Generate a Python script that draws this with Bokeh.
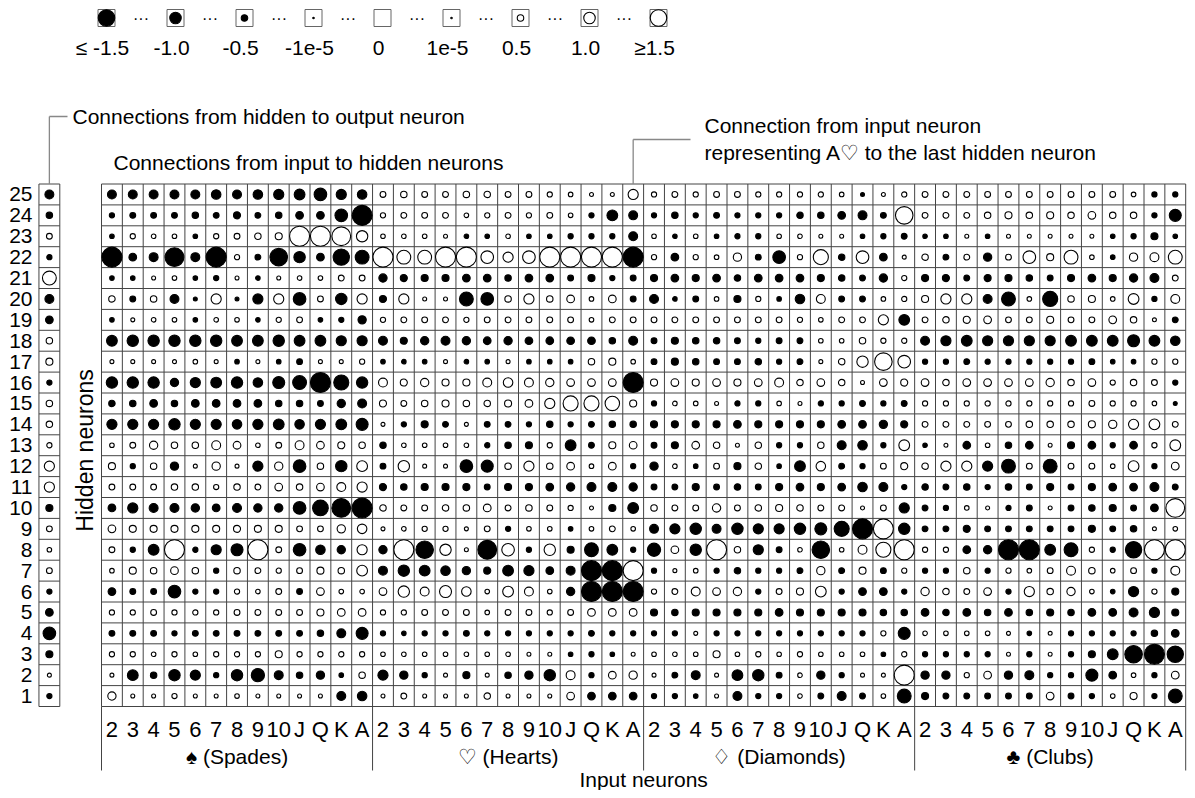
import math
from bokeh.plotting import figure
from bokeh.models import Range1d
from bokeh.core.properties import value
from bokeh.embed import file_html
from bokeh.resources import INLINE

# ---------------- data ----------------
cards = ["2", "3", "4", "5", "6", "7", "8", "9", "10", "J", "Q", "K", "A"]
suits = ["\u2660 (Spades)", "\u2661 (Hearts)", "\u2662 (Diamonds)", "\u2663 (Clubs)"]
hidden_rows = list(range(25, 0, -1))  # rows listed top to bottom

# weights input -> hidden, one list per hidden neuron (25 .. 1), 13 cards each
spades = [
    [-0.6, -0.6, -0.6, -0.6, -0.6, -0.65, -0.6, -0.65, -0.7, -0.75, -0.9, -0.7, -0.65],
    [-0.3, -0.35, -0.35, -0.35, -0.4, -0.35, -0.45, -0.35, -0.4, -0.5, -0.5, -0.9, -1.5],
    [-0.25, 0.3, 0.25, 0.25, -0.25, 0.3, 0.35, 0.4, 0.45, 1.5, 1.5, 1.4, 0.8],
    [-1.5, -0.5, -0.6, -1.4, -0.6, -1.5, 0.3, -0.35, -1.3, -0.8, -0.5, -1.2, -1.0],
    [-0.25, -0.25, 0.2, 0.25, -0.25, -0.3, 0.2, -0.25, 0.2, 0.25, 0.25, 0.35, 0.35],
    [0.4, -0.35, 0.4, -0.6, -0.2, 0.7, -0.2, -0.7, 0.7, -0.9, 0.35, -0.8, 0.7],
    [-0.25, 0.2, 0.25, 0.25, -0.25, 0.25, 0.25, -0.25, 0.3, 0.35, -0.25, -0.3, -0.55],
    [-0.75, -0.8, -0.8, -0.8, -0.8, -0.8, -0.75, -0.75, -0.8, -0.75, -0.75, -0.7, -0.7],
    [0.2, 0.2, 0.2, 0.2, 0.25, 0.2, -0.25, 0.2, -0.25, -0.35, 0.2, 0.2, 0.3],
    [-0.8, -0.8, -0.8, -0.55, -0.7, -0.75, -0.8, -0.65, -0.85, -1.0, -1.6, -1.1, -0.8],
    [-0.4, -0.4, -0.5, -0.4, -0.5, -0.5, -0.5, -0.5, -0.4, -0.4, -0.35, -0.55, -0.6],
    [-0.7, -0.7, -0.7, -0.8, -0.7, -0.7, -0.65, -0.7, -0.75, -0.65, -0.7, -0.75, -0.85],
    [0.25, 0.35, 0.55, 0.4, 0.4, 0.6, 0.5, 0.25, 0.35, 0.6, 0.5, 0.45, 0.4],
    [0.45, -0.3, 0.4, -0.55, 0.2, 0.55, 0.2, -0.7, 0.55, -0.9, 0.4, -0.8, 0.75],
    [0.35, 0.35, 0.35, 0.4, 0.4, 0.3, 0.4, 0.35, 0.5, 0.4, 0.5, 0.6, 0.7],
    [-0.5, -0.7, -0.6, -0.6, -0.55, -0.5, -0.6, -0.55, -0.55, -0.9, -1.15, -1.4, -1.6],
    [0.5, 0.45, 0.45, 0.45, 0.45, 0.45, 0.45, 0.45, 0.45, 0.35, 0.35, 0.55, 0.65],
    [0.35, -0.3, -0.75, 1.6, -0.3, -0.7, -0.85, 1.6, 0.35, -0.9, -0.65, -0.55, 0.7],
    [0.25, 0.45, 0.4, 0.5, 0.4, -0.3, 0.4, 0.35, 0.3, 0.35, 0.45, 0.4, 0.75],
    [-0.5, -0.35, -0.35, -0.9, -0.3, -0.3, 0.3, 0.25, 0.35, -0.35, 0.5, 0.25, 0.25],
    [0.3, 0.3, 0.35, 0.3, 0.3, 0.3, 0.35, 0.35, 0.35, 0.35, 0.45, 0.5, 0.5],
    [-0.35, -0.35, -0.35, -0.3, -0.35, -0.35, -0.35, -0.35, -0.35, -0.35, -0.4, -0.6, -0.85],
    [0.3, 0.3, 0.25, 0.3, 0.25, 0.3, 0.3, 0.3, 0.45, 0.3, 0.3, 0.3, 0.3],
    [0.2, -0.75, -0.4, -0.8, -0.7, -0.3, -0.8, -0.95, -0.6, -0.4, -0.55, -0.25, 0.4],
    [0.55, 0.2, 0.2, 0.3, 0.2, 0.2, 0.25, 0.2, 0.2, 0.2, 0.2, -0.6, -0.65],
]
hearts = [
    [0.35, 0.4, 0.35, 0.35, 0.4, 0.4, 0.35, 0.35, 0.3, 0.25, 0.2, 0.2, 0.7],
    [0.3, 0.35, 0.35, 0.35, 0.25, 0.3, 0.35, 0.3, 0.35, 0.25, -0.3, -0.75, -0.6],
    [0.25, 0.25, 0.25, 0.2, -0.25, -0.25, 0.25, -0.25, -0.25, -0.3, -0.3, -0.3, -0.6],
    [1.5, 1.0, 1.0, 1.5, 1.5, 0.9, 0.7, 0.9, 1.5, 1.5, 1.5, 1.5, -1.6],
    [-0.55, -0.45, -0.45, -0.45, -0.5, -0.5, -0.4, -0.5, -0.5, -0.35, -0.45, -0.3, -0.35],
    [-0.45, 0.7, 0.2, 0.2, -1.0, -0.9, 0.4, 0.7, 0.4, 0.5, 0.25, 0.5, -0.35],
    [0.3, 0.35, 0.35, 0.35, 0.3, 0.35, 0.35, 0.35, 0.35, 0.35, 0.25, 0.35, 0.35],
    [-0.6, -0.45, -0.55, -0.6, -0.55, -0.5, -0.55, -0.5, -0.5, -0.5, -0.5, -0.4, -0.6],
    [-0.25, -0.25, -0.25, 0.2, -0.25, -0.25, 0.2, -0.25, -0.25, -0.25, 0.4, 0.45, 0.25],
    [0.6, 0.45, 0.55, 0.45, 0.45, 0.6, 0.65, 0.6, 0.55, 0.5, 0.5, 0.5, -1.5],
    [0.45, 0.35, 0.4, 0.45, 0.4, 0.4, 0.45, 0.5, 0.7, 1.1, 1.1, 1.05, 0.45],
    [0.2, -0.3, -0.45, -0.35, 0.2, -0.35, -0.35, -0.3, -0.4, -0.3, -0.35, -0.4, -0.4],
    [-0.4, 0.25, 0.25, 0.25, 0.25, -0.3, -0.4, -0.45, 0.3, -0.75, -0.35, 0.45, 0.5],
    [-0.35, 0.8, 0.2, 0.2, -0.9, -0.85, 0.4, 0.7, 0.4, 0.5, 0.25, 0.5, -0.3],
    [-0.45, -0.4, -0.45, -0.45, -0.45, -0.35, -0.45, -0.45, -0.5, -0.55, -0.6, -0.6, -0.55],
    [0.4, 0.35, 0.35, 0.4, 0.4, 0.5, 0.35, 0.4, 0.35, 0.3, 0.2, -0.45, -0.75],
    [0.2, 0.25, 0.3, 0.3, 0.2, 0.35, -0.3, 0.25, 0.25, -0.25, 0.25, 0.35, 0.25],
    [-0.55, 1.5, -1.3, 0.8, 0.2, -1.4, 0.9, -0.3, 0.8, -0.45, -1.0, -0.75, -0.3],
    [-0.6, -0.8, -0.75, -0.65, -0.55, -0.45, -0.75, -0.7, -0.5, -0.6, -1.6, -1.6, 1.5],
    [0.5, 0.8, 0.6, 0.85, 0.65, 0.25, 0.75, 0.6, 0.25, -0.55, -1.6, -1.6, -1.6],
    [0.3, 0.3, 0.35, 0.35, 0.35, 0.25, 0.35, 0.35, 0.3, 0.35, 0.5, 0.5, 0.5],
    [-0.3, -0.25, -0.3, -0.3, -0.35, -0.3, -0.3, -0.3, -0.3, -0.3, -0.35, -0.3, -0.3],
    [0.25, 0.25, 0.25, 0.25, 0.25, 0.25, 0.25, 0.2, 0.2, -0.25, -0.3, -0.25, 0.2],
    [-0.7, -0.55, -0.3, 0.2, -0.45, 0.2, -0.4, -0.55, -0.8, 0.6, -0.3, 0.5, 0.55],
    [0.2, 0.35, 0.2, 0.2, 0.2, 0.4, 0.2, 0.2, 0.2, 0.5, -0.5, -0.5, -0.5],
]
diamonds = [
    [0.3, 0.35, 0.3, 0.35, 0.35, 0.3, 0.3, 0.3, 0.3, 0.25, -0.2, 0.2, 0.3],
    [-0.3, -0.4, -0.3, -0.35, -0.3, -0.3, -0.3, -0.4, -0.4, -0.5, -0.6, -0.35, 1.3],
    [0.25, -0.25, 0.25, -0.25, -0.3, -0.3, 0.25, 0.25, 0.2, 0.2, -0.25, -0.3, -0.35],
    [0.3, -0.5, 0.3, 0.25, 0.55, -0.35, -0.9, 0.3, 1.1, -0.4, 0.9, -0.5, 0.2],
    [-0.45, -0.5, -0.45, -0.5, -0.4, -0.5, -0.5, -0.5, -0.45, -0.4, -0.35, -0.55, 0.3],
    [-0.6, -0.25, -0.35, 0.25, -0.45, 0.3, -0.25, -0.65, 0.6, -0.35, -0.35, 0.25, 0.3],
    [0.35, 0.35, 0.35, 0.35, 0.35, 0.35, 0.35, 0.3, 0.25, 0.35, 0.35, 0.7, -0.75],
    [-0.35, -0.45, -0.4, -0.4, -0.35, -0.3, -0.35, -0.35, 0.25, 0.25, 0.4, 0.3, 0.3],
    [-0.35, -0.45, -0.4, -0.35, -0.35, -0.4, -0.3, -0.35, 0.2, 0.4, 0.8, 1.3, 0.9],
    [0.45, 0.5, 0.45, 0.5, 0.45, 0.5, 0.6, 0.4, 0.5, 0.4, 0.2, 0.5, 0.45],
    [-0.3, 0.25, 0.25, 0.2, -0.3, -0.3, 0.25, 0.2, -0.3, -0.3, -0.35, -0.3, -0.35],
    [-0.45, -0.45, -0.45, -0.45, -0.5, -0.45, -0.45, -0.45, -0.45, -0.5, -0.5, -0.55, -0.45],
    [-0.35, -0.45, 0.5, 0.4, 0.2, 0.4, -0.3, -0.3, 0.4, -0.6, -0.65, -0.3, 0.75],
    [-0.55, 0.25, -0.25, 0.35, -0.45, 0.4, -0.25, -0.75, 0.65, -0.35, -0.3, 0.35, 0.45],
    [-0.35, -0.35, -0.45, -0.35, -0.4, -0.35, -0.45, -0.5, -0.45, -0.5, -0.65, -0.6, -0.3],
    [0.4, 0.35, 0.35, 0.55, 0.35, 0.4, 0.45, 0.4, 0.35, 0.35, 0.2, 0.35, -0.7],
    [-0.6, -0.7, -0.8, -0.6, -0.8, -0.7, -0.7, -0.8, -0.85, -1.1, -1.5, 1.5, -0.8],
    [-0.95, 0.5, -0.8, 1.5, 0.4, -0.7, -0.35, 0.25, -1.3, 0.25, 0.6, 1.1, 1.6],
    [-0.3, 0.2, 0.25, -0.3, -0.4, -0.3, -0.3, -0.35, 0.55, -0.35, 0.45, -0.35, 0.3],
    [0.3, 0.35, 0.6, 0.5, 0.55, -0.3, 0.35, 0.45, 0.75, -0.3, -0.5, -0.5, -0.3],
    [-0.45, -0.4, -0.45, -0.45, -0.45, -0.45, -0.5, -0.45, -0.45, -0.45, -0.45, -0.4, -0.4],
    [-0.3, -0.3, 0.2, -0.3, -0.3, -0.3, -0.3, -0.3, -0.3, -0.3, -0.3, 0.3, -0.85],
    [0.25, 0.25, 0.25, 0.45, 0.25, 0.3, 0.25, 0.3, 0.25, 0.25, 0.25, -0.25, 0.3],
    [0.2, -0.35, -0.6, 0.2, -0.75, -0.8, -0.35, 0.25, -0.55, -0.3, 0.2, 0.2, 1.6],
    [-0.3, -0.3, -0.25, 0.2, -0.6, -0.3, -0.3, 0.25, -0.35, -0.6, -0.35, 0.25, -1.0],
]
clubs = [
    [0.35, 0.35, 0.35, 0.35, 0.35, 0.35, 0.35, 0.35, 0.35, 0.35, 0.25, -0.3, -0.3],
    [0.35, 0.35, 0.35, 0.4, 0.45, 0.4, 0.45, 0.4, 0.5, 0.4, 0.4, -0.3, -0.85],
    [-0.25, -0.25, 0.2, -0.25, 0.2, 0.2, 0.2, 0.2, 0.2, -0.25, -0.3, -0.45, -0.25],
    [0.4, -0.35, 0.35, -0.55, 0.35, 0.9, 0.45, 1.0, 0.25, -0.25, 0.55, 0.6, 1.0],
    [-0.45, -0.45, -0.35, -0.45, -0.45, -0.4, -0.35, -0.45, -0.5, -0.45, -0.55, -0.6, 0.35],
    [0.45, 0.7, 0.7, -0.6, -1.0, 0.25, -1.1, 0.4, 0.45, 0.25, 0.75, -0.3, 0.6],
    [0.35, 0.4, 0.45, 0.5, 0.35, 0.35, 0.45, 0.35, 0.35, 0.5, 0.4, 0.2, -0.35],
    [-0.6, -0.7, -0.75, -0.7, -0.7, -0.7, -0.7, -0.75, -0.75, -0.75, -0.85, -0.75, -0.65],
    [-0.3, -0.3, -0.35, -0.3, -0.3, -0.3, -0.3, -0.3, -0.35, -0.25, -0.25, 0.3, 0.3],
    [0.5, 0.4, 0.5, 0.5, 0.5, 0.5, 0.55, 0.4, 0.5, 0.3, 0.4, 0.35, -0.3],
    [0.3, 0.3, 0.3, 0.3, 0.3, 0.3, 0.3, 0.3, 0.35, 0.3, 0.3, 0.25, -0.2],
    [0.35, 0.35, 0.35, 0.35, 0.35, 0.4, 0.4, 0.4, 0.45, 0.55, 0.7, 0.75, 0.35],
    [-0.25, 0.2, -0.5, 0.25, -0.4, -0.5, 0.2, -0.45, -0.5, -0.3, -0.5, 0.3, 0.75],
    [0.4, 0.7, 0.7, -0.7, -1.0, 0.35, -1.0, 0.35, 0.35, 0.25, 0.75, -0.3, 0.5],
    [-0.4, -0.35, -0.4, -0.3, -0.4, -0.35, -0.45, -0.35, -0.45, -0.5, -0.5, -0.6, -0.35],
    [-0.35, -0.3, 0.25, 0.2, -0.3, -0.35, 0.2, -0.35, -0.4, -0.45, -0.35, -0.5, 1.4],
    [-0.35, -0.35, -0.45, -0.35, -0.35, -0.35, -0.35, -0.35, -0.45, -0.35, -0.4, 0.2, 0.25],
    [0.3, 0.3, -0.5, -0.55, -1.6, -1.5, -0.75, -1.0, 0.3, -0.3, -1.2, 1.5, 1.6],
    [-0.3, -0.3, 0.4, -0.3, 0.3, 0.25, 0.35, 0.6, 0.4, 0.25, 0.35, -0.3, 0.6],
    [0.55, 0.4, 0.35, 0.5, -0.3, 0.7, 0.4, 0.55, 0.25, -0.25, -0.7, 0.3, -0.45],
    [-0.5, -0.4, -0.5, -0.4, -0.5, -0.4, -0.45, -0.4, -0.5, -0.5, -0.6, -0.7, -0.45],
    [0.25, 0.25, 0.25, 0.25, 0.2, -0.25, 0.2, -0.3, -0.3, -0.3, -0.3, -0.4, -0.5],
    [-0.3, -0.3, -0.3, -0.3, 0.2, -0.3, 0.2, -0.3, -0.45, -0.75, -1.3, -1.6, -1.2],
    [-0.55, -0.55, 0.3, 0.5, -0.55, -0.6, -0.3, -0.3, -0.85, -0.5, 0.25, -0.3, 0.5],
    [-0.45, -0.35, -0.35, -0.35, -0.35, -0.35, 0.5, -0.35, -0.3, 0.25, 0.45, -0.3, -1.0],
]
# weights hidden -> output (hidden neuron 25 .. 1)
output_w = [-0.6, -0.4, 0.35, -0.3, 1.0, -0.6, -0.5, 0.4, 0.45, -0.3, 0.4, 0.4, 0.3,
            0.7, 0.7, -0.45, 0.35, 0.25, 0.35, -0.3, -0.5, -0.9, -0.45, 0.2, -0.3]

legend_vals = [-1.5, -1.0, -0.5, -1e-5, 0.0, 1e-5, 0.5, 1.0, 1.5]
legend_labels = ["\u2264 -1.5", "-1.0", "-0.5", "-1e-5", "0", "1e-5", "0.5", "1.0", "\u22651.5"]

# ---------------- layout helpers (picture pixel -> data units) ----------------
CX = 20.85      # cell width in px
CY = 20.9       # cell height in px
GX0 = 101.0     # left edge of the input grid
GY_TOP = 183.5  # top edge of row 25
W, H = 1187, 790
FONT = value("Liberation Sans")


def X(px):
    return (px - GX0) / CX


def Y(py):
    return 25.5 - (py - GY_TOP) / CY


def dia(w, cell=20.0, lo=1.5):
    return lo + (cell - lo) * min(abs(w), 1.5) / 1.5


p = figure(width=W, height=H, output_backend="svg", toolbar_location=None,
           x_range=Range1d(X(0), X(W)), y_range=Range1d(Y(H), Y(0)),
           x_axis_location=None, y_axis_location=None, min_border=0)
p.xgrid.visible = False
p.ygrid.visible = False
p.outline_line_color = None
p.background_fill_color = "white"

# ---------------- grid lines ----------------
gx0, gy0, gx1, gy1 = [], [], [], []
for k in range(26):
    gx0 += [0]; gx1 += [52]; gy0 += [0.5 + k]; gy1 += [0.5 + k]
for k in range(53):
    gx0 += [k]; gx1 += [k]; gy0 += [0.5]; gy1 += [25.5]
# hidden->output column
for k in range(26):
    gx0 += [-3]; gx1 += [-2]; gy0 += [0.5 + k]; gy1 += [0.5 + k]
for k in (-3, -2):
    gx0 += [k]; gx1 += [k]; gy0 += [0.5]; gy1 += [25.5]
p.segment(gx0, gy0, gx1, gy1, line_color="#444444", line_width=1)

# suit separators below the grid
sx = [0, 13, 26, 39, 52]
p.segment(sx, [0.5] * 5, sx, [Y(770)] * 5, line_color="#444444", line_width=1)

# ---------------- circles ----------------
xs, ys, ds, fills = [], [], [], []
for k, block in enumerate([spades, hearts, diamonds, clubs]):
    for i, row in enumerate(hidden_rows):
        for j, w in enumerate(block[i]):
            xs.append(13 * k + j + 0.5)
            ys.append(row)
            ds.append(dia(w))
            fills.append("black" if w < 0 else "white")
for i, row in enumerate(hidden_rows):
    w = output_w[i]
    xs.append(-2.5)
    ys.append(row)
    ds.append(dia(w))
    fills.append("black" if w < 0 else "white")
p.scatter(xs, ys, size=ds, marker="circle", fill_color=fills, line_color="black", line_width=1.1)

# ---------------- labels ----------------
p.text([X(32)] * 25, hidden_rows, text=[str(r) for r in hidden_rows], text_align="right",
       text_baseline="middle", text_font=FONT, text_font_size="21px", text_color="black")
p.text([13 * k + j + 0.5 for k in range(4) for j in range(13)], [Y(729)] * 52,
       text=cards * 4, text_align="center", text_baseline="middle", text_font=FONT,
       text_font_size="22px", text_color="black")
p.text([6.5, 19.5, 32.5, 45.5], [Y(756)] * 4, text=suits, text_align="center",
       text_baseline="middle", text_font=FONT, text_font_size="21px", text_color="black")
p.text([26], [Y(779)], text=["Input neurons"], text_align="center", text_baseline="middle",
       text_font=FONT, text_font_size="21px", text_color="black")
p.text([X(84)], [12.75], text=["Hidden neurons"], angle=math.pi / 2, text_align="center",
       text_baseline="middle", text_font=FONT, text_font_size="23px", text_color="black")

# annotations
p.text([X(72), X(113)], [Y(116), Y(162)],
       text=["Connections from hidden to output neuron", "Connections from input to hidden neurons"],
       text_align="left", text_baseline="middle", text_font=FONT, text_font_size="21px",
       text_color="black")
p.text([X(704), X(704)], [Y(125), Y(152)],
       text=["Connection from input neuron", "representing  A\u2661 to the last hidden neuron"],
       text_align="left", text_baseline="middle", text_font=FONT, text_font_size="21px",
       text_color="black")
p.segment([-2.5, -2.5, 25.5, 25.5], [Y(116), Y(116), Y(139), Y(139)],
          [X(67), -2.5, X(690), 25.5], [Y(116), 25.5, Y(139), 25.5],
          line_color="#888888", line_width=1.3)

# ---------------- legend ----------------
lg_x = [X(106 + 69 * i) for i in range(9)]
lg_y = Y(17.5)
p.rect(lg_x, [lg_y] * 9, width=17, height=17, width_units="screen", height_units="screen",
       fill_color="white", line_color="#666666", line_width=1)
lv = [v for v in legend_vals if v != 0]
lxs = [lg_x[i] for i, v in enumerate(legend_vals) if v != 0]
p.scatter(lxs, [lg_y] * len(lv), size=[dia(v, cell=16.5) for v in lv], marker="circle",
          fill_color=["black" if v < 0 else "white" for v in lv], line_color="black",
          line_width=1.1)
p.text([(lg_x[i] + lg_x[i + 1]) / 2 for i in range(8)], [lg_y] * 8, text=["\u00b7\u00b7\u00b7"] * 8,
       text_align="center", text_baseline="middle", text_font=FONT, text_font_size="16px",
       text_color="black")
p.text([x - 4 / CX for x in lg_x], [Y(47)] * 9, text=legend_labels, text_align="center",
       text_baseline="middle", text_font=FONT, text_font_size="21px", text_color="black")

open("out.html", "w").write(file_html(p, INLINE))
